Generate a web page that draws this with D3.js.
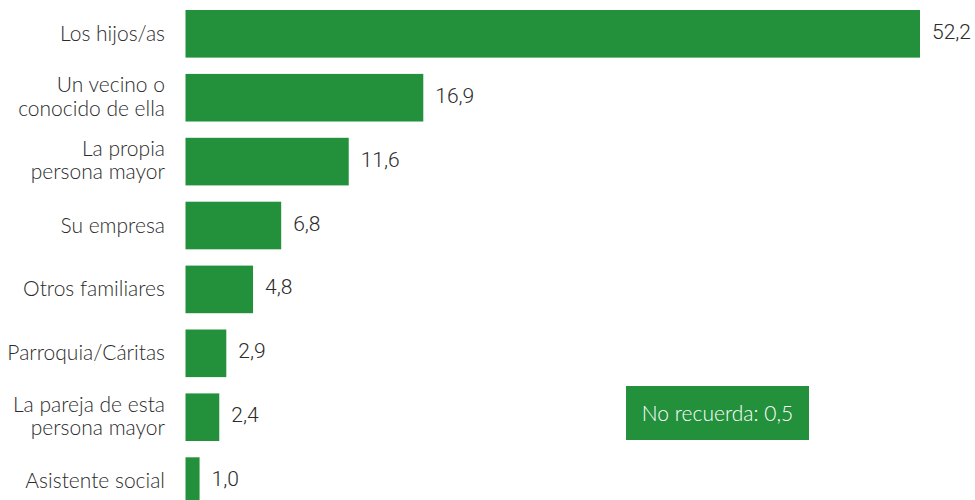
<!DOCTYPE html>
<html><head><meta charset="utf-8">
<script src="https://cdn.jsdelivr.net/npm/d3@7"></script>
<style>body{margin:0;background:#fff}</style>
</head><body>
<svg id="chart" width="975" height="500"></svg>
<script>
const categories = [
  ["Los hijos/as"],
  ["Un vecino o", "conocido de ella"],
  ["La propia", "persona mayor"],
  ["Su empresa"],
  ["Otros familiares"],
  ["Parroquia/Cáritas"],
  ["La pareja de esta", "persona mayor"],
  ["Asistente social"]
];
const values = [52.2, 16.9, 11.6, 6.8, 4.8, 2.9, 2.4, 1.0];
const valueLabels = ["52,2", "16,9", "11,6", "6,8", "4,8", "2,9", "2,4", "1,0"];
const noteText = "No recuerda: 0,5";

const GREEN = "#23903c";
const TEXT = "#2b2b2b";
const FONT = "Lato";
const NUMFONT = "Roboto";
const FS = 21;

const svg = d3.select("#chart");
const keys = categories.map(c => c.join(" "));

const x = d3.scaleLinear().domain([0, 52.2]).range([185.5, 920]);
const y = d3.scaleBand().domain(keys).range([-9.17, 524.08]).paddingInner(0.255).paddingOuter(0.3);

const rows = svg.append("g").selectAll("g")
  .data(categories.map((c, i) => ({lines: c, key: keys[i], v: values[i], lab: valueLabels[i]})))
  .join("g");

rows.append("rect")
  .attr("x", x(0))
  .attr("y", d => y(d.key))
  .attr("width", d => x(d.v) - x(0))
  .attr("height", y.bandwidth())
  .attr("fill", GREEN);

rows.each(function(d) {
  const g = d3.select(this);
  const c = y(d.key) + y.bandwidth() / 2;
  const n = d.lines.length;
  d.lines.forEach((line, i) => {
    g.append("text")
      .attr("x", 165)
      .attr("y", n === 1 ? c + 7 : c - 5.5 + i * 23.3)
      .attr("text-anchor", "end")
      .attr("font-family", FONT)
      .attr("font-weight", 300)
      .attr("font-size", FS)
      .attr("fill", TEXT)
      .text(line);
  });
  g.append("text")
    .attr("x", x(d.v) + 12)
    .attr("y", c + 5)
    .attr("font-family", NUMFONT)
    .attr("font-weight", 300)
    .attr("font-size", FS)
    .attr("fill", TEXT)
    .text(d.lab);
});

const box = svg.append("g");
box.append("rect").attr("x", 626).attr("y", 386).attr("width", 183).attr("height", 54).attr("fill", GREEN);
box.append("text").attr("x", 626 + 183 / 2).attr("y", 421).attr("text-anchor", "middle")
  .attr("font-family", FONT).attr("font-weight", 300).attr("font-size", FS).attr("fill", "#fff").text(noteText);
</script></body></html>
